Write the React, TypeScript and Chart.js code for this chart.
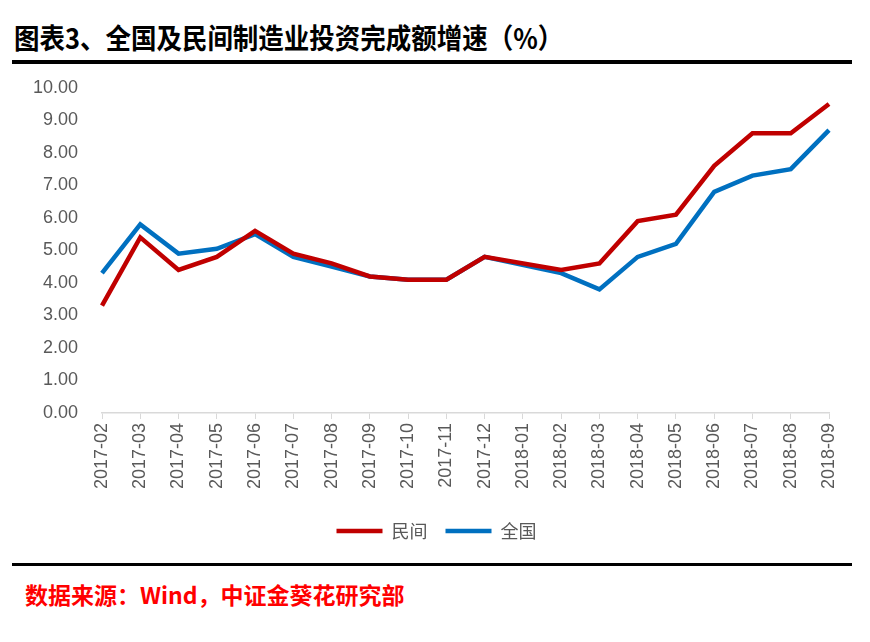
import React, { useEffect, useRef } from "react";
import { Chart, registerables } from "chart.js";

Chart.register(...registerables);

const categories = [
  "2017-02", "2017-03", "2017-04", "2017-05", "2017-06", "2017-07", "2017-08",
  "2017-09", "2017-10", "2017-11", "2017-12", "2018-01", "2018-02", "2018-03",
  "2018-04", "2018-05", "2018-06", "2018-07", "2018-08", "2018-09",
];

const privateValues: (number | null)[] = [
  3.3, 5.4, 4.4, 4.8, 5.6, 4.9, 4.6, 4.2, 4.1, 4.1, 4.8, null, 4.4, 4.6,
  5.9, 6.1, 7.6, 8.6, 8.6, 9.5,
];

const nationalValues: (number | null)[] = [
  4.3, 5.8, 4.9, 5.05, 5.5, 4.8, 4.5, 4.2, 4.1, 4.1, 4.8, null, 4.3, 3.8,
  4.8, 5.2, 6.8, 7.3, 7.5, 8.7,
];

const seriesNames = ["民间", "全国"];
const titleText = "图表3、全国及民间制造业投资完成额增速（%）";
const sourceText = "数据来源：Wind，中证金葵花研究部";

const legendShift = {
  id: "legendShift",
  afterLayout(chart: any) {
    const lg = chart.legend;
    if (lg) {
      lg.left += 22;
      lg.right += 22;
    }
  },
};

export default function App() {
  const canvasRef = useRef<HTMLCanvasElement | null>(null);

  useEffect(() => {
    if (!canvasRef.current) return;
    const chart = new Chart(canvasRef.current, {
      type: "line",
      data: {
        labels: categories,
        datasets: [
          {
            label: seriesNames[0],
            data: privateValues,
            borderColor: "#C00000",
            backgroundColor: "#C00000",
            borderWidth: 4.5,
            pointRadius: 0,
            tension: 0,
            spanGaps: true,
          },
          {
            label: seriesNames[1],
            data: nationalValues,
            borderColor: "#0070C0",
            backgroundColor: "#0070C0",
            borderWidth: 4.5,
            pointRadius: 0,
            tension: 0,
            spanGaps: true,
          },
        ],
      },
      plugins: [legendShift],
      options: {
        animation: false,
        responsive: false,
        maintainAspectRatio: false,
        layout: { padding: { top: 16, right: 41, left: 0, bottom: 0 } },
        plugins: {
          tooltip: { enabled: false },
          legend: {
            position: "bottom",
            labels: {
              usePointStyle: true,
              pointStyle: "line",
              pointStyleWidth: 46,
              boxHeight: 18,
              padding: 18,
              color: "#595959",
              font: { family: "'Noto Sans CJK SC'", size: 18 },
            },
          },
        },
        scales: {
          x: {
            offset: false,
            grid: {
              drawOnChartArea: false,
              drawTicks: true,
              tickLength: 6,
              color: "#d9d9d9",
            },
            border: { color: "#d9d9d9", width: 1.5 },
            ticks: {
              autoSkip: false,
              maxRotation: 90,
              minRotation: 90,
              padding: 4,
              color: "#595959",
              font: { family: "'Liberation Sans'", size: 18 },
            },
            afterFit: (scale: any) => {
              scale.height = 91;
            },
          },
          y: {
            min: 0,
            max: 10,
            grid: { display: false, drawTicks: false },
            border: { display: false },
            ticks: {
              stepSize: 1,
              padding: 24,
              color: "#595959",
              font: { family: "'Liberation Sans'", size: 18 },
              callback: (v: any) => Number(v).toFixed(2),
            },
            afterFit: (scale: any) => {
              scale.width = 102;
            },
          },
        },
      },
    });
    return () => chart.destroy();
  }, []);

  return (
    <div
      style={{
        position: "absolute",
        left: 0,
        top: 0,
        width: 870,
        height: 642,
        background: "#fff",
        overflow: "hidden",
      }}
    >
      <div
        style={{
          position: "absolute",
          left: 14,
          top: 20,
          fontFamily: "'Noto Sans CJK SC'",
          fontWeight: 700,
          fontSize: 28,
          lineHeight: "34px",
          color: "#000",
          whiteSpace: "nowrap",
          transform: "scaleX(0.91)",
          transformOrigin: "left center",
        }}
      >
        {titleText}
      </div>
      <div
        style={{
          position: "absolute",
          left: 12,
          top: 60,
          width: 840,
          height: 4,
          background: "#000",
        }}
      />
      <canvas
        ref={canvasRef}
        width={870}
        height={497}
        style={{ position: "absolute", left: 0, top: 53, width: 870, height: 497 }}
      />
      <div
        style={{
          position: "absolute",
          left: 12,
          top: 563,
          width: 840,
          height: 3,
          background: "#000",
        }}
      />
      <div
        style={{
          position: "absolute",
          left: 25,
          top: 578,
          fontFamily: "'Noto Sans CJK SC'",
          fontWeight: 700,
          fontSize: 23,
          lineHeight: "32px",
          color: "#FF0000",
          whiteSpace: "nowrap",
        }}
      >
        {sourceText}
      </div>
    </div>
  );
}
